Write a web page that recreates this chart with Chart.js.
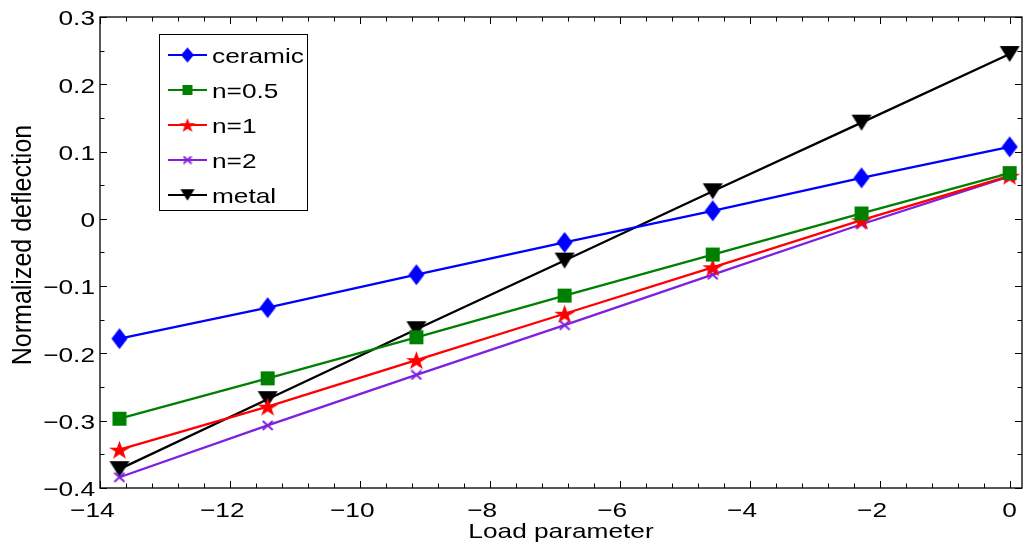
<!DOCTYPE html>
<html>
<head>
<meta charset="utf-8">
<script src="https://cdn.jsdelivr.net/npm/chart.js@4/dist/chart.umd.min.js"></script>
<style>
  html, body { margin: 0; padding: 0; background: #ffffff; }
  #wrap { width: 1025px; height: 552px; position: relative; }
</style>
</head>
<body>
<div id="wrap"><canvas id="c" width="1025" height="552"></canvas></div>
<script>
// ---- data ----
const loadParam = [-13.7, -11.42, -9.13, -6.85, -4.57, -2.28, 0];
const ceramic   = [-0.178, -0.132, -0.083, -0.035, 0.012, 0.061, 0.107];
const n05       = [-0.297, -0.237, -0.176, -0.114, -0.053, 0.008, 0.068];
const n1        = [-0.343, -0.279, -0.210, -0.141, -0.072, -0.002, 0.064];
const n2        = [-0.384, -0.307, -0.232, -0.158, -0.083, -0.008, 0.063];
const metal     = [-0.372, -0.268, -0.164, -0.062, 0.041, 0.143, 0.245];
const seriesNames = ['ceramic', 'n=0.5', 'n=1', 'n=2', 'metal'];
const xTicks = [-14, -12, -10, -8, -6, -4, -2, 0];
const yTicks = [-0.4, -0.3, -0.2, -0.1, 0, 0.1, 0.2, 0.3];
const xTitle = 'Load parameter';
const yTitle = 'Normalized deflection';

// ---- styles ----
const colors = ['#0000ff', '#008000', '#ff0000', '#7f1fe0', '#000000'];
const FONT = '21px "Liberation Sans", Arial, sans-serif';
const SX = 1.25;

function makeMarker(kind, w, h, color) {
  const c = document.createElement('canvas');
  c.width = Math.ceil(w) + 2; c.height = Math.ceil(h) + 2;
  const g = c.getContext('2d');
  const cx = c.width / 2, cy = c.height / 2;
  g.fillStyle = color; g.strokeStyle = color;
  g.beginPath();
  if (kind === 'diamond') {
    g.moveTo(cx, cy - h / 2); g.lineTo(cx + w / 2, cy); g.lineTo(cx, cy + h / 2); g.lineTo(cx - w / 2, cy);
    g.closePath(); g.fill();
  } else if (kind === 'square') {
    g.rect(cx - w / 2, cy - h / 2, w, h); g.fill();
  } else if (kind === 'tri') {
    g.moveTo(cx - w / 2, cy - h / 2); g.lineTo(cx + w / 2, cy - h / 2); g.lineTo(cx, cy + h / 2);
    g.closePath(); g.fill();
  } else if (kind === 'star') {
    const kx = w / 1.902, ky = h / 1.809;
    for (let i = 0; i < 10; i++) {
      const a = -Math.PI / 2 + i * Math.PI / 5;
      const r = i % 2 === 0 ? 1 : 0.382;
      const px = cx + Math.cos(a) * r * kx;
      const py = cy + (Math.sin(a) * r + 0.0955) * ky;
      if (i === 0) g.moveTo(px, py); else g.lineTo(px, py);
    }
    g.closePath(); g.fill();
  } else if (kind === 'x') {
    g.lineWidth = 2;
    g.moveTo(cx - w / 2, cy - h / 2); g.lineTo(cx + w / 2, cy + h / 2);
    g.moveTo(cx + w / 2, cy - h / 2); g.lineTo(cx - w / 2, cy + h / 2);
    g.stroke();
  }
  return c;
}

const plotMarkers = [
  makeMarker('diamond', 16, 21, colors[0]),
  makeMarker('square', 14, 14, colors[1]),
  makeMarker('star', 21, 18, colors[2]),
  makeMarker('x', 10, 9, colors[3]),
  makeMarker('tri', 20, 16, colors[4])
];
const legendMarkers = [
  makeMarker('diamond', 13, 15, colors[0]),
  makeMarker('square', 10, 10, colors[1]),
  makeMarker('star', 16, 14, colors[2]),
  makeMarker('x', 8, 7, colors[3]),
  makeMarker('tri', 14, 11.5, colors[4])
];

const seriesValues = [ceramic, n05, n1, n2, metal];
const datasets = seriesValues.map((vals, i) => ({
  label: seriesNames[i],
  data: loadParam.map((x, j) => ({ x: x, y: vals[j] })),
  borderColor: colors[i],
  backgroundColor: colors[i],
  borderWidth: 2.3,
  pointStyle: plotMarkers[i],
  pointRadius: 8,
  pointHoverRadius: 8,
  tension: 0,
  clip: false
}));

function fmt(v) {
  let s = (Math.round(v * 10) / 10).toString();
  if (s === '-0') s = '0';
  return s.replace('-', '\u2212');
}

function stretchedText(ctx, text, x, y, align, baseline) {
  ctx.save();
  ctx.translate(x, y);
  ctx.scale(SX, 1);
  ctx.textAlign = align; ctx.textBaseline = baseline;
  ctx.fillText(text, 0, 0);
  ctx.restore();
}

const matlabAxes = {
  id: 'matlabAxes',
  afterDraw(chart) {
    const ctx = chart.ctx;
    const a = chart.chartArea;
    const xs = chart.scales.x, ys = chart.scales.y;
    ctx.save();
    // frame
    ctx.strokeStyle = '#000'; ctx.lineWidth = 1.3;
    ctx.strokeRect(a.left, a.top, a.right - a.left, a.bottom - a.top);
    // ticks
    ctx.lineWidth = 1;
    ctx.beginPath();
    for (let k = 0; k <= 35; k++) {
      const v = -14 + 0.4 * k;
      const px = Math.round(xs.getPixelForValue(v)) + 0.5;
      const len = (k % 5 === 0) ? 7 : 4.5;
      ctx.moveTo(px, a.bottom); ctx.lineTo(px, a.bottom - len);
      ctx.moveTo(px, a.top); ctx.lineTo(px, a.top + len);
    }
    for (let k = 0; k <= 14; k++) {
      const v = -0.4 + 0.05 * k;
      const py = Math.round(ys.getPixelForValue(v)) + 0.5;
      const len = (k % 2 === 0) ? 7 : 4.5;
      ctx.moveTo(a.left, py); ctx.lineTo(a.left + len, py);
      ctx.moveTo(a.right, py); ctx.lineTo(a.right - len, py);
    }
    ctx.stroke();

    // tick labels
    ctx.fillStyle = '#000';
    ctx.font = FONT;
    xs.ticks.forEach(t => {
      const px = xs.getPixelForValue(t.value);
      const s = fmt(t.value);
      const digits = s.replace('\u2212', '');
      const dw = ctx.measureText(digits).width * SX;
      stretchedText(ctx, s, px + dw / 2, 516.5, 'right', 'alphabetic');
    });
    ys.ticks.forEach(t => {
      const py = ys.getPixelForValue(t.value);
      stretchedText(ctx, fmt(t.value), a.left - 5, py + 2.5, 'right', 'middle');
    });

    // axis titles
    stretchedText(ctx, xTitle, (a.left + a.right) / 2, 538, 'center', 'alphabetic');
    ctx.save();
    ctx.translate(23, 245);
    ctx.scale(1.12, 1);
    ctx.rotate(-Math.PI / 2);
    ctx.font = '25px "Liberation Sans", Arial, sans-serif';
    ctx.textAlign = 'center'; ctx.textBaseline = 'middle';
    ctx.fillText(yTitle, 0, 0);
    ctx.restore();

    // legend
    const bx = 159.5, by = 34.5, bw = 148, bh = 176;
    ctx.fillStyle = '#fff';
    ctx.fillRect(bx, by, bw, bh);
    ctx.strokeStyle = '#000'; ctx.lineWidth = 1;
    ctx.strokeRect(bx, by, bw, bh);
    chart.data.datasets.forEach((ds, i) => {
      const ry = 55 + i * 35;
      ctx.strokeStyle = ds.borderColor; ctx.lineWidth = 2;
      ctx.beginPath(); ctx.moveTo(168, ry); ctx.lineTo(207, ry); ctx.stroke();
      const m = legendMarkers[i];
      ctx.drawImage(m, 187.5 - m.width / 2, ry - m.height / 2);
      ctx.fillStyle = '#000';
      ctx.font = FONT;
      stretchedText(ctx, ds.label, 212, ry + 7.5, 'left', 'alphabetic');
    });
    ctx.restore();
  }
};

new Chart(document.getElementById('c'), {
  type: 'line',
  data: { datasets: datasets },
  options: {
    responsive: false,
    devicePixelRatio: 1,
    animation: false,
    events: [],
    layout: { autoPadding: false, padding: { left: 100, right: 3, top: 17, bottom: 64 } },
    plugins: { legend: { display: false }, tooltip: { enabled: false } },
    scales: {
      x: {
        type: 'linear', min: -14, max: 0.19,
        grid: { display: false, drawTicks: false },
        border: { display: false },
        ticks: { display: false, padding: 0 },
        afterBuildTicks: s => { s.ticks = xTicks.map(v => ({ value: v })); },
        afterFit: s => { s.height = 0; s.paddingLeft = 0; s.paddingRight = 0; s.paddingTop = 0; s.paddingBottom = 0; }
      },
      y: {
        type: 'linear', min: -0.4, max: 0.3,
        grid: { display: false, drawTicks: false },
        border: { display: false },
        ticks: { display: false, padding: 0 },
        afterBuildTicks: s => { s.ticks = yTicks.map(v => ({ value: v })); },
        afterFit: s => { s.width = 0; s.paddingLeft = 0; s.paddingRight = 0; s.paddingTop = 0; s.paddingBottom = 0; }
      }
    }
  },
  plugins: [matlabAxes]
});
</script>
</body>
</html>
